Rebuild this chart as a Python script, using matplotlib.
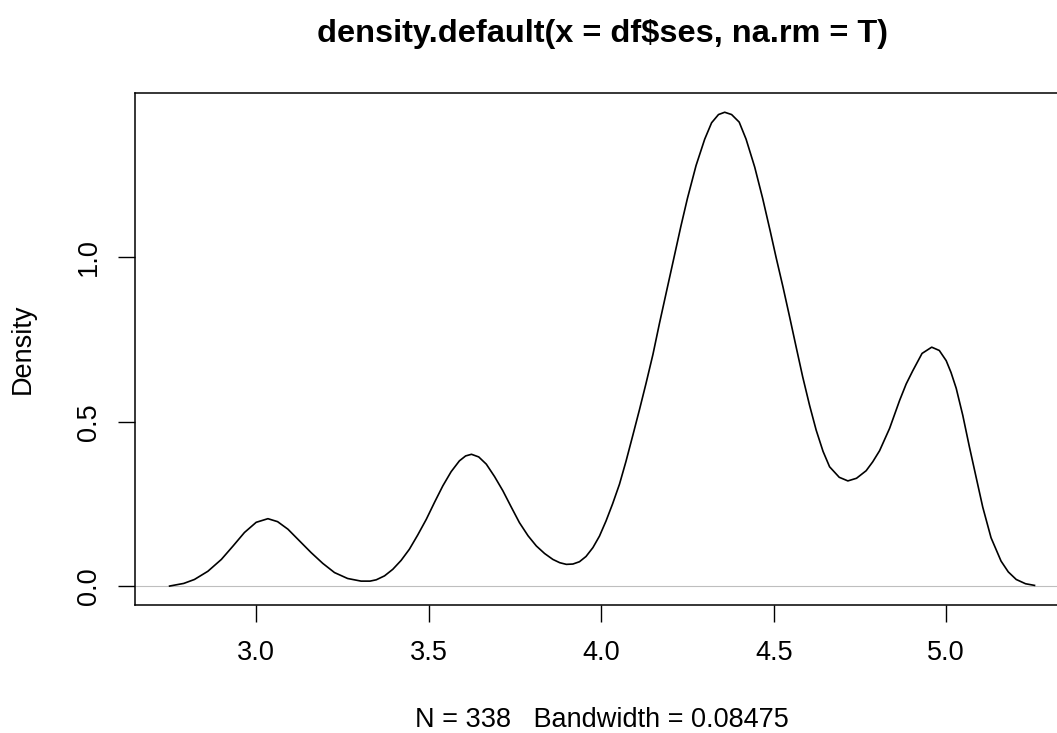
import numpy as np
import matplotlib.pyplot as plt

# density curve (x = ses, y = density)
ses_x = [2.749, 2.790, 2.821, 2.860, 2.899, 2.933, 2.966, 3.000, 3.034, 3.062,
         3.092, 3.125, 3.159, 3.193, 3.227, 3.265, 3.304, 3.330, 3.348, 3.372,
         3.396, 3.420, 3.444, 3.468, 3.493, 3.517, 3.541, 3.565, 3.589, 3.607,
         3.624, 3.645, 3.667, 3.691, 3.715, 3.739, 3.763, 3.788, 3.812, 3.836,
         3.860, 3.880, 3.899, 3.918, 3.937, 3.956, 3.976, 3.995, 4.014, 4.033,
         4.053, 4.072, 4.092, 4.111, 4.130, 4.150, 4.169, 4.190, 4.210, 4.231,
         4.250, 4.275, 4.300, 4.320, 4.340, 4.358, 4.378, 4.400, 4.420, 4.445,
         4.468, 4.490, 4.507, 4.527, 4.546, 4.565, 4.584, 4.604, 4.623, 4.643,
         4.662, 4.690, 4.715, 4.740, 4.768, 4.787, 4.807, 4.836, 4.865, 4.884,
         4.903, 4.930, 4.958, 4.980, 5.000, 5.014, 5.029, 5.048, 5.067, 5.087,
         5.106, 5.130, 5.159, 5.180, 5.203, 5.230, 5.256]
density_y = [0.000, 0.008, 0.020, 0.045, 0.081, 0.122, 0.163, 0.194, 0.205, 0.196,
             0.173, 0.138, 0.102, 0.069, 0.041, 0.023, 0.015, 0.015, 0.019, 0.031,
             0.051, 0.078, 0.112, 0.155, 0.203, 0.255, 0.305, 0.348, 0.381, 0.396,
             0.401, 0.393, 0.371, 0.333, 0.290, 0.241, 0.193, 0.153, 0.122, 0.099,
             0.081, 0.071, 0.066, 0.067, 0.074, 0.090, 0.117, 0.152, 0.198, 0.250,
             0.310, 0.380, 0.460, 0.537, 0.617, 0.705, 0.800, 0.900, 0.995, 1.095,
             1.180, 1.280, 1.360, 1.410, 1.435, 1.442, 1.435, 1.412, 1.360, 1.275,
             1.180, 1.080, 1.000, 0.910, 0.820, 0.728, 0.637, 0.550, 0.475, 0.410,
             0.363, 0.331, 0.320, 0.328, 0.351, 0.378, 0.412, 0.480, 0.565, 0.615,
             0.655, 0.708, 0.727, 0.717, 0.686, 0.650, 0.602, 0.520, 0.425, 0.330,
             0.240, 0.147, 0.076, 0.043, 0.020, 0.007, 0.002]

n_obs = 338
bandwidth = 0.08475
x_ticks = [3.0, 3.5, 4.0, 4.5, 5.0]
x_ticklabels = ['3.0', '3.5', '4.0', '4.5', '5.0']
y_ticks = [0.0, 0.5, 1.0]
y_ticklabels = ['0.0', '0.5', '1.0']

plt.rcParams['font.family'] = ['Liberation Sans', 'DejaVu Sans']

x = np.array(ses_x)
y = np.array(density_y)

# R style limits: 4% extension
xpad = 0.04 * (x.max() - x.min())
xlim = (x.min() - xpad, x.max() + xpad)
ylim = (-0.04 * y.max(), 1.04 * y.max())

W, H = 1057, 733
fig = plt.figure(figsize=(W / 100, H / 100), dpi=100)
left = 135 / W
width = (xlim[1] - xlim[0]) * 345 / W   # plot box runs past the right edge
bottom = (H - 605) / H
height = (605 - 93.3) / H
ax = fig.add_axes([left, bottom, width, height])

ax.axhline(0, color='#bebebe', lw=0.8)
ax.plot(x, y, color='black', lw=1.2)
ax.set_xlim(xlim)
ax.set_ylim(ylim)

ax.set_xticks(x_ticks)
ax.set_xticklabels(x_ticklabels)
ax.set_yticks(y_ticks)
ax.set_yticklabels(y_ticklabels, rotation=90, va='center')
ax.tick_params(length=12, width=1.0, labelsize=19.5, color='black')
ax.tick_params(axis='x', pad=13)
ax.tick_params(axis='y', pad=12)
for s in ax.spines.values():
    s.set_linewidth(1.1)

cx = (135 + 135 + width * W) / 2 / W
fig.text(cx, 1 - 42 / H, 'density.default(x = df$ses, na.rm = T)',
         ha='center', va='baseline', fontsize=23.4, fontweight='bold')
fig.text(cx, 6 / H, 'N = %d   Bandwidth = %.5f' % (n_obs, bandwidth),
         ha='center', va='baseline', fontsize=19.5)
fig.text(22.5 / W, 1 - 348.7 / H, 'Density', rotation=90,
         ha='center', va='center', fontsize=19.5)

fig.savefig('out.png', dpi=100)
